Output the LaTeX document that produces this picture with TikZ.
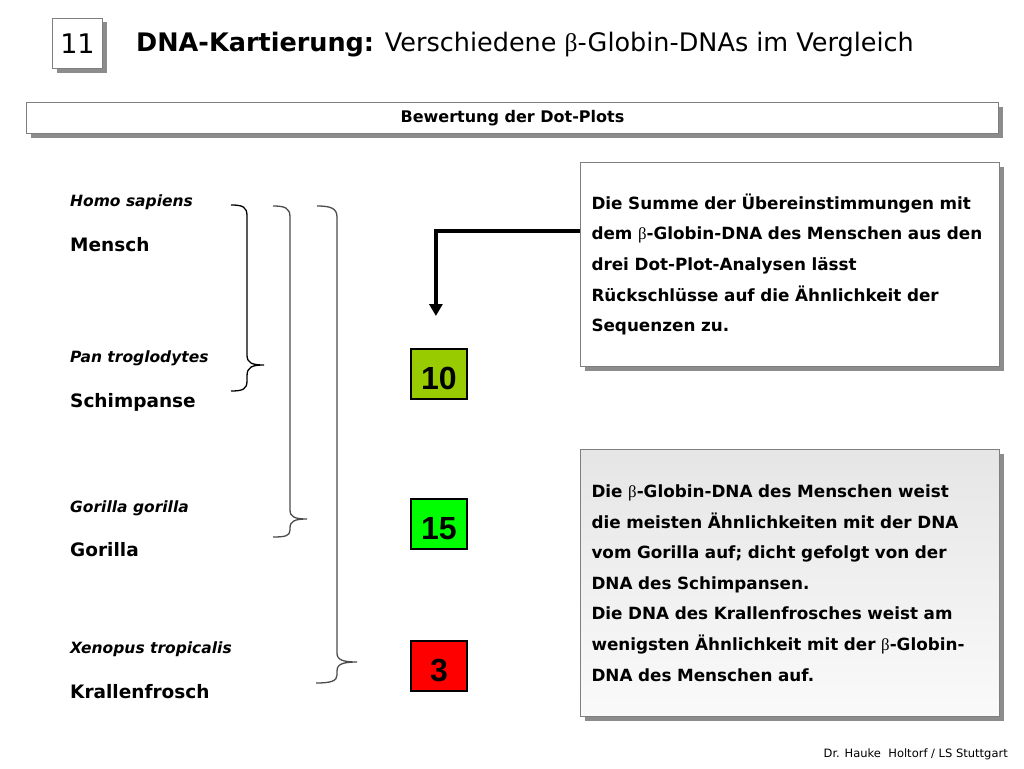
\documentclass[tikz,border=0pt]{standalone}
\usepackage{fontspec}
\setmainfont{DejaVu Sans}
\newfontfamily\arialfont{Liberation Sans}
\newfontfamily\betafont{Liberation Serif}
\newcommand{\betachar}{{\betafont\mdseries\upshape β}}
\usepackage{tikz}
\usetikzlibrary{arrows.meta,positioning,shadows,calc}
\usepackage{xcolor}
\definecolor{shadowgray}{HTML}{8C8C8C}
\definecolor{framegray}{HTML}{7F7F7F}
\definecolor{scoreolive}{HTML}{99CC00}
\definecolor{scoregreen}{HTML}{00FF00}
\definecolor{scorered}{HTML}{FF0000}
\tikzset{
    shadowbox/.style={
        draw=framegray,
        line width=1pt,
        fill=white,
        drop shadow={shadow xshift=4pt,shadow yshift=-4pt,fill=shadowgray,opacity=1},
        anchor=north west,
        inner sep=0pt
    },
    infobox/.style={
        shadowbox,
        font=\bfseries\fontsize{16.8}{30.6}\selectfont,
        align=left,
        inner xsep=11pt
    },
    scorebox/.style={
        draw=black,
        line width=1.8pt,
        minimum width=56pt,
        minimum height=50pt,
        anchor=north west,
        inner sep=0pt,
        text height=31pt,
        text depth=0pt,
        font=\arialfont\bfseries\fontsize{32}{32}\selectfont
    },
    species/.style={
        anchor=west,
        inner sep=0pt,
        font=\bfseries\itshape\fontsize{15.5}{17}\selectfont
    },
    common/.style={
        anchor=west,
        inner sep=0pt,
        font=\bfseries\fontsize{18.5}{20}\selectfont
    },
    brace/.style={
        line width=1.3pt
    },
    flowarrow/.style={
        -{Triangle[length=12pt,width=13pt]},
        line width=3.6pt
    }
}

\begin{document}
\begin{tikzpicture}[x=1pt,y=-1pt]

    \useasboundingbox (0,0) rectangle (1024,768);

    % Title
    \node[
        shadowbox,
        minimum width=50pt,
        minimum height=50pt
    ] (number) at (52,18) {};
    \node at (number.center) {\fontsize{27}{27}\selectfont 11};

    \node[
        anchor=west,
        inner sep=0pt,
        font=\fontsize{25.5}{27}\selectfont
    ] (title) at (136,45)
        {\textbf{DNA-Kartierung:} Verschiedene \betachar-Globin-DNAs im Vergleich};

    % Header bar
    \node[
        shadowbox,
        minimum width=972pt,
        minimum height=31pt
    ] (header) at (26,102) {};
    \node[font=\bfseries\fontsize{16}{18}\selectfont]
        at (header.center) {Bewertung der Dot-Plots};

    % Species
    \node[species] (homo)    at (70,202) {Homo sapiens};
    \node[common]  (mensch)  at (70,245) {Mensch};
    \node[species] (pan)     at (70,358) {Pan troglodytes};
    \node[common]  (schimp)  at (70,402) {Schimpanse};
    \node[species] (gor)     at (70,508) {Gorilla gorilla};
    \node[common]  (gorilla) at (70,550) {Gorilla};
    \node[species] (xeno)    at (70,649) {Xenopus tropicalis};
    \node[common]  (frosch)  at (70,692) {Krallenfrosch};

    % Braces
    \draw[brace,black]
        (231,205) .. controls (243,205) and (247,207) .. (247,216)
        -- (247,355) .. controls (247,363) and (252,365) .. (264,365)
        .. controls (252,365) and (247,367) .. (247,376)
        -- (247,381) .. controls (247,389) and (243,391) .. (231,391);

    \draw[brace,black!70]
        (273,206) .. controls (285,206) and (290,208) .. (290,217)
        -- (290,510) .. controls (290,517) and (295,519) .. (307,519)
        .. controls (295,519) and (290,521) .. (290,528)
        -- (290,530) .. controls (290,536) and (285,537) .. (273,537);

    \draw[brace,black!70]
        (317,206) .. controls (330,206) and (337,208) .. (337,217)
        -- (337,653) .. controls (337,660) and (343,662) .. (357,662)
        .. controls (343,662) and (337,664) .. (337,671)
        -- (337,675) .. controls (337,681) and (331,683) .. (316,683);

    % Scores
    \node[scorebox,fill=scoreolive] (score10) at (410,348) {10};
    \node[scorebox,fill=scoregreen] (score15) at (410,498) {15};
    \node[scorebox,fill=scorered]   (score3)  at (410,640) {3};

    % Explanation boxes
    \node[
        infobox,
        minimum width=419pt,
        minimum height=204pt,
        text width=397pt
    ] (summe) at (580,162)
        {\rule{0pt}{14pt}Die Summe der Übereinstimmungen mit\\
         dem \betachar-Globin-DNA des Menschen aus den\\
         drei Dot-Plot-Analysen lässt\\
         Rückschlüsse auf die Ähnlichkeit der\\
         Sequenzen zu.};

    \node[
        infobox,
        top color=black!10,
        bottom color=black!2,
        minimum width=419pt,
        minimum height=267pt,
        text width=397pt
    ] (fazit) at (580,449)
        {Die \betachar-Globin-DNA des Menschen weist\\
         die meisten Ähnlichkeiten mit der DNA\\
         vom Gorilla auf; dicht gefolgt von der\\
         DNA des Schimpansen.\\
         Die DNA des Krallenfrosches weist am\\
         wenigsten Ähnlichkeit mit der \betachar-Globin-\\
         DNA des Menschen auf.};

    % Arrow
    \coordinate (arrowtip) at ($(score10.north)+(-3,-32)$);
    \draw[flowarrow]
        (summe.west |- 0,231) -| (arrowtip);

    % Footer
    \node[
        anchor=east,
        inner sep=0pt,
        font=\fontsize{11.5}{13}\selectfont
    ] (footer) at (1008,754) {Dr. Hauke\ \ Holtorf / LS Stuttgart};

\end{tikzpicture}
\end{document}
